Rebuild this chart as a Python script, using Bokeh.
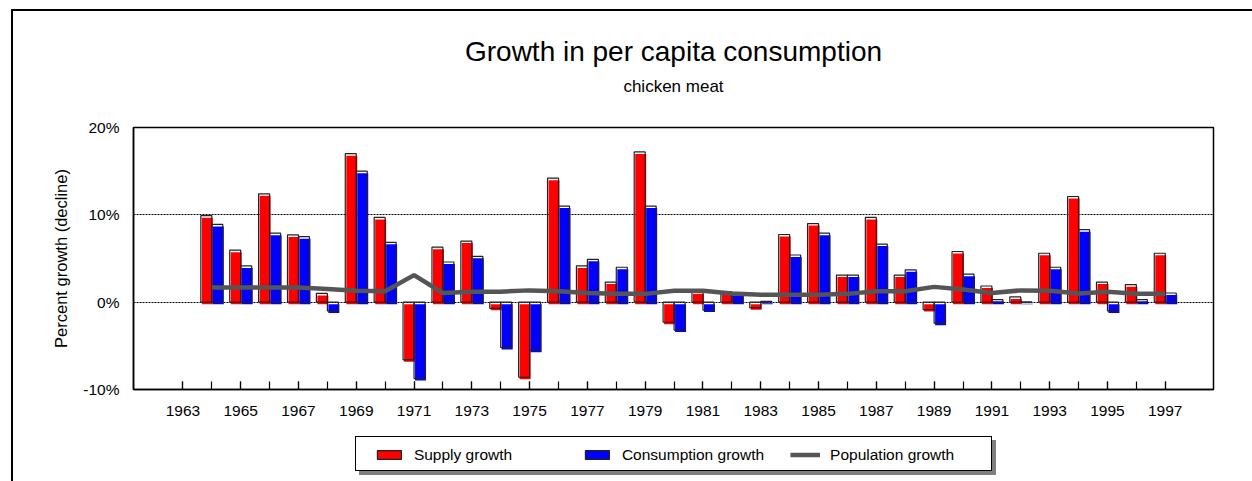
from bokeh.plotting import figure
from bokeh.layouts import column
from bokeh.models import (FixedTicker, Range1d, Title, Legend, LegendItem,
                          LinearAxis, PrintfTickFormatter, ColumnDataSource)
from bokeh.embed import file_html
from bokeh.resources import INLINE

# ---------------- data ----------------
years = list(range(1964, 1998))
supply_growth = [9.9, 5.95, 12.4, 7.7, 1.0, 17.0, 9.7, -6.6, 6.3, 7.0,
                 -0.7, -8.6, 14.2, 4.15, 2.3, 17.2, -2.3, 1.2, 1.2, -0.65,
                 7.75, 9.0, 3.1, 9.7, 3.1, -0.85, 5.8, 1.85, 0.6, 5.6,
                 12.1, 2.3, 2.0, 5.6]
consumption_growth = [8.9, 4.15, 7.9, 7.5, -1.0, 15.0, 6.85, -8.75, 4.6, 5.25,
                      -5.2, -5.5, 11.0, 4.9, 4.0, 11.0, -3.2, -0.9, 1.0, 0.1,
                      5.4, 7.9, 3.1, 6.65, 3.7, -2.4, 3.2, 0.3, 0.05, 4.0,
                      8.3, -1.0, 0.3, 1.05]
population_growth = [1.67, 1.67, 1.67, 1.67, 1.5, 1.3, 1.25, 3.1, 1.05, 1.2,
                     1.2, 1.35, 1.25, 1.05, 0.95, 0.95, 1.3, 1.3, 1.0, 0.85,
                     0.85, 0.85, 0.95, 1.25, 1.25, 1.75, 1.45, 1.05, 1.35, 1.3,
                     1.0, 1.2, 0.97, 0.97]
x_label_years = list(range(1963, 1998, 2))
x_minor_years = list(range(1963, 1998))
y_ticks = [-10, 0, 10, 20]

title_text = "Growth in per capita consumption"
subtitle_text = "chicken meat"
y_label = "Percent growth (decline)"
series_names = ["Supply growth", "Consumption growth", "Population growth"]

# ---------------- main figure ----------------
FONT = "Liberation Sans"
W = 1252
H_MAIN, H_LEG = 428, 53
BL, BR, BT, BB = 133, 39, 127, 39
X0, X1 = 1961.29, 1998.67
Y0, Y1 = -10, 20
PX = (X1 - X0) / (W - BL - BR)          # data units per pixel, x
PY = (Y1 - Y0) / (H_MAIN - BT - BB)     # data units per pixel, y

p = figure(width=W, height=H_MAIN, output_backend="svg", toolbar_location=None,
           x_range=Range1d(X0, X1), y_range=Range1d(Y0, Y1),
           min_border_left=BL, min_border_right=BR,
           min_border_top=BT, min_border_bottom=BB,
           background_fill_color="white", border_fill_alpha=0)
p.outline_line_color = "black"
p.outline_line_width = 1.5

xa = p.below[0]
ya = p.left[0]

# subtitle (as an undecorated top axis label) and title
sub_axis = LinearAxis(axis_label=subtitle_text, ticker=FixedTicker(ticks=[]),
                      axis_line_color=None, major_tick_line_color=None,
                      minor_tick_line_color=None, major_tick_out=0,
                      major_tick_in=0, minor_tick_out=0, minor_tick_in=0,
                      major_label_standoff=0,
                      axis_label_standoff=32, axis_label_text_font=FONT,
                      axis_label_text_font_size="17px",
                      axis_label_text_font_style="normal",
                      axis_label_text_color="black")
p.add_layout(sub_axis, "above")
p.add_layout(Title(text=title_text, align="center", text_font=FONT,
                   text_font_size="28px", text_font_style="normal",
                   text_color="black", standoff=13), "above")

# bars
BW = 0.38
src = ColumnDataSource(dict(
    year=years,
    sx=[y - BW / 2 for y in years],
    cx=[y + BW / 2 for y in years],
    sx_f=[y - BW / 2 + PX for y in years],
    cx_f=[y + BW / 2 + PX for y in years],
    s=supply_growth, c=consumption_growth,
    s_f=[v - 2 * PY for v in supply_growth],
    c_f=[v - 2 * PY for v in consumption_growth],
    zero_f=[-2 * PY] * len(years),
    zero=[0] * len(years),
    pop=population_growth,
))

SUP_FILL = dict(fill_color="#ff0000", line_color=None)
CON_FILL = dict(fill_color="#0000ff", line_color=None)
BAR_LINE = dict(fill_color=None, line_color="#222222", line_width=1.2)
POP_LINE = dict(line_color="#555555", line_width=4.5)

p.vbar(x="sx_f", width=BW, top="s_f", bottom="zero_f", source=src, **SUP_FILL)
p.vbar(x="sx", width=BW, top="s", bottom="zero", source=src, **BAR_LINE)
p.vbar(x="cx_f", width=BW, top="c_f", bottom="zero_f", source=src, **CON_FILL)
p.vbar(x="cx", width=BW, top="c", bottom="zero", source=src, **BAR_LINE)
p.line(x="year", y="pop", source=src, **POP_LINE)

# axes
xa.ticker = FixedTicker(ticks=x_label_years, minor_ticks=x_minor_years)
xa.major_tick_in = 8
xa.major_tick_out = 0
xa.minor_tick_in = 8
xa.minor_tick_out = 0
xa.major_tick_line_color = "black"
xa.minor_tick_line_color = "black"
xa.major_tick_line_width = 1.2
xa.minor_tick_line_width = 1.2
xa.axis_line_color = "black"
xa.axis_line_width = 1.5
xa.major_label_standoff = 16
xa.major_label_text_font = FONT
xa.major_label_text_font_size = "15.5px"
xa.major_label_text_color = "black"

ya.ticker = FixedTicker(ticks=y_ticks)
ya.formatter = PrintfTickFormatter(format="%d%%")
ya.major_tick_in = 0
ya.major_tick_out = 0
ya.minor_tick_line_color = None
ya.axis_line_color = "black"
ya.axis_line_width = 1.5
ya.major_label_standoff = 14
ya.major_label_text_font = FONT
ya.major_label_text_font_size = "15.5px"
ya.major_label_text_color = "black"
ya.axis_label = y_label
ya.axis_label_text_font = FONT
ya.axis_label_text_font_size = "16.5px"
ya.axis_label_text_font_style = "normal"
ya.axis_label_text_color = "black"
ya.axis_label_standoff = 10

p.xgrid.grid_line_color = None
p.ygrid.ticker = FixedTicker(ticks=[0, 10])
p.ygrid.grid_line_color = "black"
p.ygrid.grid_line_dash = "2 1"
p.ygrid.grid_line_width = 1.2

# ---------------- legend strip ----------------
# legend proxies: same styles; they lie left of and below this strip's ranges
pl = figure(width=W, height=H_LEG, output_backend="svg", toolbar_location=None,
            x_range=Range1d(years[0] + 5, years[0] + 6),
            y_range=Range1d(20, 21),
            x_axis_location=None, y_axis_location=None,
            min_border_left=95, min_border_right=0,
            min_border_top=0, min_border_bottom=0,
            background_fill_alpha=0, border_fill_alpha=0,
            outline_line_color=None)
pl.xgrid.visible = False
pl.ygrid.visible = False
px_ = [years[0]]
ls_f = pl.vbar(x=px_, top=[supply_growth[0]], width=BW, **SUP_FILL)
ls_l = pl.vbar(x=px_, top=[supply_growth[0]], width=BW, **BAR_LINE)
lc_f = pl.vbar(x=px_, top=[consumption_growth[0]], width=BW, **CON_FILL)
lc_l = pl.vbar(x=px_, top=[consumption_growth[0]], width=BW, **BAR_LINE)
lp = pl.line(x=years[:2], y=population_growth[:2], **POP_LINE)

legend = Legend(items=[
    LegendItem(label=series_names[0], renderers=[ls_f, ls_l]),
    LegendItem(label=series_names[1], renderers=[lc_f, lc_l]),
    LegendItem(label=series_names[2], renderers=[lp]),
], orientation="horizontal", location="center",
    glyph_width=30, glyph_height=11, label_standoff=10, label_width=142,
    spacing=26, padding=8, margin=0,
    border_line_color=None, background_fill_alpha=0,
    label_text_font=FONT, label_text_font_size="15.5px",
    label_text_color="black")
pl.add_layout(legend)

# decorative chart border + legend box with shadow (CSS behind the canvases)
layout = column(p, pl, spacing=0)
layout.styles = {"background": ", ".join([
    "linear-gradient(#fff,#fff) 356px 437px / 635px 33px no-repeat",
    "linear-gradient(#000,#000) 355px 436px / 637px 35px no-repeat",
    "linear-gradient(#808080,#808080) 359px 440px / 637px 35px no-repeat",
    "linear-gradient(#000,#000) 11px 9px / 2px 600px no-repeat",
    "linear-gradient(#000,#000) 11px 9px / 1400px 2px no-repeat",
    "#ffffff",
])}

open("out.html", "w").write(file_html(layout, INLINE))
